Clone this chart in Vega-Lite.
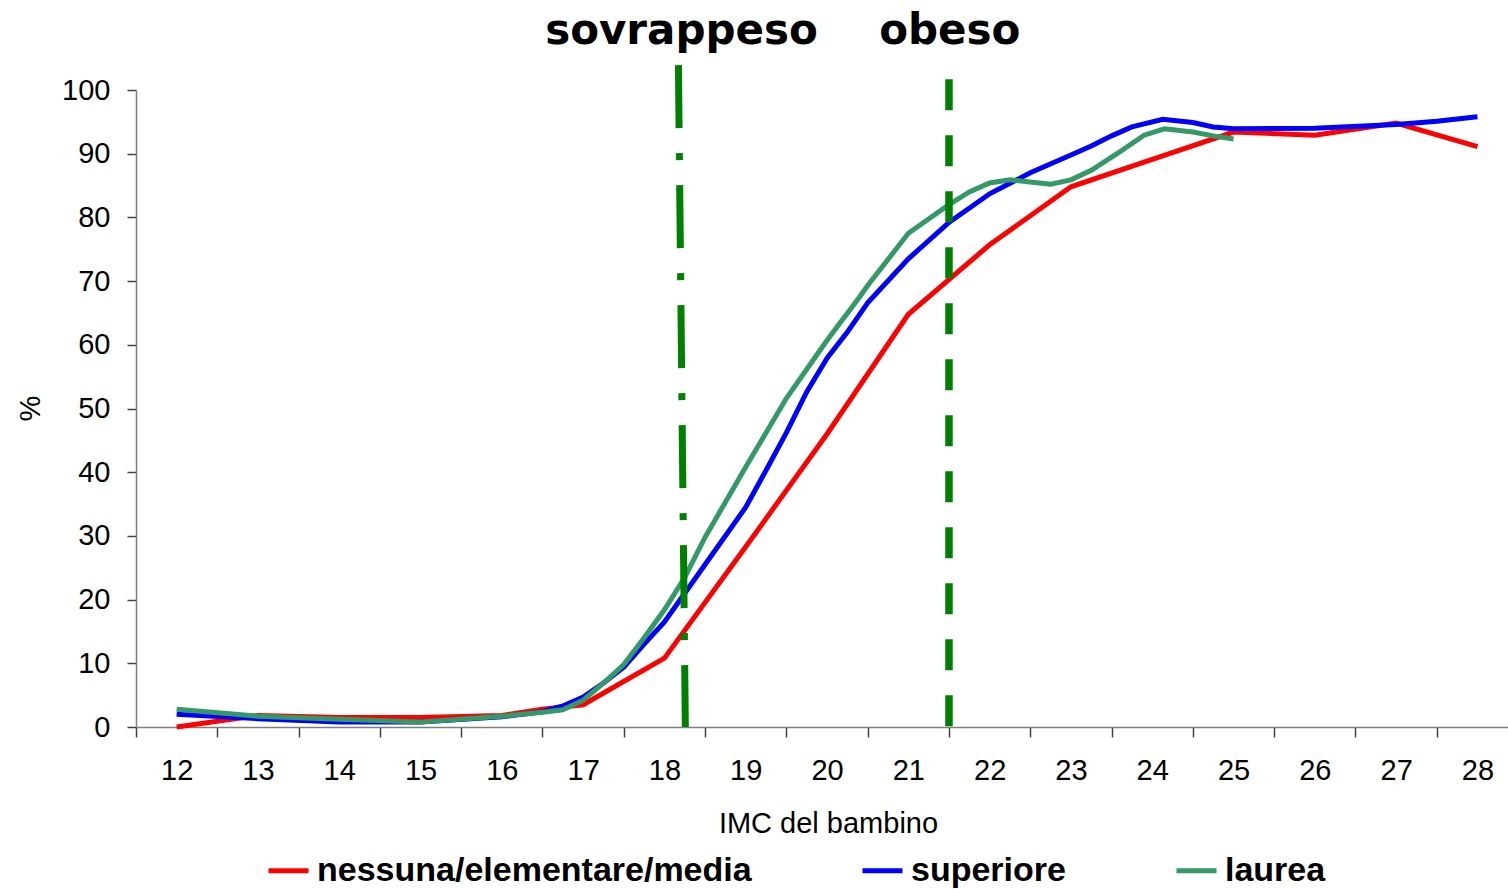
{
  "$schema": "https://vega.github.io/schema/vega-lite/v6.json",
  "width": 1372,
  "height": 637,
  "autosize": {"type": "none"},
  "padding": {"left": 136, "top": 90, "right": 0, "bottom": 162},
  "background": "white",
  "config": {"view": {"stroke": null}, "font": "Liberation Sans"},
  "datasets": {
    "series": [
      {"s": "nessuna/elementare/media", "x": 12, "y": 0.0},
      {"s": "nessuna/elementare/media", "x": 13, "y": 1.8},
      {"s": "nessuna/elementare/media", "x": 14, "y": 1.5},
      {"s": "nessuna/elementare/media", "x": 15, "y": 1.5},
      {"s": "nessuna/elementare/media", "x": 16, "y": 1.8},
      {"s": "nessuna/elementare/media", "x": 16.5, "y": 2.8},
      {"s": "nessuna/elementare/media", "x": 17, "y": 3.5},
      {"s": "nessuna/elementare/media", "x": 18, "y": 10.8},
      {"s": "nessuna/elementare/media", "x": 19, "y": 28.3},
      {"s": "nessuna/elementare/media", "x": 20, "y": 46.0},
      {"s": "nessuna/elementare/media", "x": 21, "y": 64.8},
      {"s": "nessuna/elementare/media", "x": 22, "y": 75.7},
      {"s": "nessuna/elementare/media", "x": 23, "y": 84.8},
      {"s": "nessuna/elementare/media", "x": 24, "y": 89.1},
      {"s": "nessuna/elementare/media", "x": 25, "y": 93.4},
      {"s": "nessuna/elementare/media", "x": 26, "y": 92.9},
      {"s": "nessuna/elementare/media", "x": 27, "y": 94.8},
      {"s": "nessuna/elementare/media", "x": 28, "y": 91.1},
      {"s": "superiore", "x": 12, "y": 2.0},
      {"s": "superiore", "x": 13, "y": 1.3},
      {"s": "superiore", "x": 14, "y": 0.8},
      {"s": "superiore", "x": 15, "y": 0.8},
      {"s": "superiore", "x": 16, "y": 1.6},
      {"s": "superiore", "x": 16.5, "y": 2.4},
      {"s": "superiore", "x": 16.75, "y": 3.3},
      {"s": "superiore", "x": 17, "y": 4.7},
      {"s": "superiore", "x": 17.25, "y": 6.9},
      {"s": "superiore", "x": 17.5, "y": 9.4},
      {"s": "superiore", "x": 17.75, "y": 13.0},
      {"s": "superiore", "x": 18, "y": 16.5},
      {"s": "superiore", "x": 18.25, "y": 21.0},
      {"s": "superiore", "x": 18.5, "y": 25.5},
      {"s": "superiore", "x": 19, "y": 34.5},
      {"s": "superiore", "x": 19.25, "y": 40.3},
      {"s": "superiore", "x": 19.5, "y": 46.2},
      {"s": "superiore", "x": 19.75, "y": 52.6},
      {"s": "superiore", "x": 20, "y": 57.9},
      {"s": "superiore", "x": 20.25, "y": 62.0},
      {"s": "superiore", "x": 20.5, "y": 66.6},
      {"s": "superiore", "x": 21, "y": 73.5},
      {"s": "superiore", "x": 21.5, "y": 79.2},
      {"s": "superiore", "x": 22, "y": 83.7},
      {"s": "superiore", "x": 22.5, "y": 87.0},
      {"s": "superiore", "x": 23, "y": 89.8},
      {"s": "superiore", "x": 23.25, "y": 91.2},
      {"s": "superiore", "x": 23.5, "y": 92.8},
      {"s": "superiore", "x": 23.75, "y": 94.2},
      {"s": "superiore", "x": 24.13, "y": 95.4},
      {"s": "superiore", "x": 24.5, "y": 94.9},
      {"s": "superiore", "x": 24.75, "y": 94.2},
      {"s": "superiore", "x": 25, "y": 93.9},
      {"s": "superiore", "x": 26, "y": 94.0},
      {"s": "superiore", "x": 27, "y": 94.6},
      {"s": "superiore", "x": 27.5, "y": 95.1},
      {"s": "superiore", "x": 28, "y": 95.8},
      {"s": "laurea", "x": 12, "y": 2.8},
      {"s": "laurea", "x": 13, "y": 1.7},
      {"s": "laurea", "x": 14, "y": 1.2},
      {"s": "laurea", "x": 15, "y": 0.8},
      {"s": "laurea", "x": 16, "y": 1.7},
      {"s": "laurea", "x": 16.5, "y": 2.3},
      {"s": "laurea", "x": 16.75, "y": 2.7},
      {"s": "laurea", "x": 17, "y": 4.2},
      {"s": "laurea", "x": 17.25, "y": 6.9},
      {"s": "laurea", "x": 17.5, "y": 9.8},
      {"s": "laurea", "x": 17.75, "y": 14.0},
      {"s": "laurea", "x": 18, "y": 18.4},
      {"s": "laurea", "x": 18.25, "y": 23.5},
      {"s": "laurea", "x": 18.5, "y": 29.8},
      {"s": "laurea", "x": 19, "y": 40.8},
      {"s": "laurea", "x": 19.5, "y": 51.6},
      {"s": "laurea", "x": 20, "y": 60.7},
      {"s": "laurea", "x": 20.4, "y": 67.5},
      {"s": "laurea", "x": 20.5, "y": 69.3},
      {"s": "laurea", "x": 21, "y": 77.5},
      {"s": "laurea", "x": 21.5, "y": 82.0},
      {"s": "laurea", "x": 21.75, "y": 84.0},
      {"s": "laurea", "x": 22, "y": 85.4},
      {"s": "laurea", "x": 22.25, "y": 85.9},
      {"s": "laurea", "x": 22.75, "y": 85.2},
      {"s": "laurea", "x": 23, "y": 85.9},
      {"s": "laurea", "x": 23.25, "y": 87.4},
      {"s": "laurea", "x": 23.6, "y": 90.3},
      {"s": "laurea", "x": 23.9, "y": 92.9},
      {"s": "laurea", "x": 24.15, "y": 93.9},
      {"s": "laurea", "x": 24.5, "y": 93.4},
      {"s": "laurea", "x": 24.75, "y": 92.8},
      {"s": "laurea", "x": 25, "y": 92.3}
    ],
    "sovrappeso": [
      {"x": 18.172, "y": 103.9, "o": 0},
      {"x": 18.257, "y": 0, "o": 1}
    ],
    "obeso": [
      {"x": 21.5, "y": 101.7, "o": 0},
      {"x": 21.5, "y": 0, "o": 1}
    ],
    "labels": [
      {"t": "sovrappeso", "x": 18.21, "y": 107.2},
      {"t": "obeso", "x": 21.51, "y": 107.2}
    ]
  },
  "layer": [
    {
      "data": {"name": "series"},
      "mark": {"type": "line", "strokeWidth": 5, "clip": false},
      "encoding": {
        "x": {
          "field": "x", "type": "quantitative",
          "scale": {"domain": [11.5, 28.376], "nice": false, "zero": false},
          "axis": {
            "title": "IMC del bambino",
            "values": [11.5, 12.5, 13.5, 14.5, 15.5, 16.5, 17.5, 18.5, 19.5, 20.5, 21.5, 22.5, 23.5, 24.5, 25.5, 26.5, 27.5],
            "labelExpr": "format(datum.value + 0.5, 'd')",
            "labelOffset": 40.65,
            "labelOverlap": false,
            "labelFlush": false,
            "labelBound": false,
            "labelFont": "Liberation Sans",
            "labelFontSize": 29,
            "labelColor": "black",
            "labelPadding": 19,
            "tickSize": 10,
            "tickColor": "#404040",
            "tickWidth": 1.5,
            "domainColor": "#7f7f7f",
            "domainWidth": 1.5,
            "grid": false,
            "titleFont": "Liberation Sans",
            "titleFontSize": 29,
            "titleFontWeight": "normal",
            "titleColor": "black",
            "titleBaseline": "alphabetic",
            "titleY": 105,
            "titleX": 692
          }
        },
        "y": {
          "field": "y", "type": "quantitative",
          "scale": {"domain": [0, 100], "nice": false},
          "axis": {
            "title": "%",
            "values": [0, 10, 20, 30, 40, 50, 60, 70, 80, 90, 100],
            "labelFont": "Liberation Sans",
            "labelFontSize": 29,
            "labelColor": "black",
            "labelPadding": 17,
            "tickSize": 9,
            "tickColor": "#404040",
            "tickWidth": 1.5,
            "domainColor": "#7f7f7f",
            "domainWidth": 1.5,
            "grid": false,
            "titleFont": "Liberation Sans",
            "titleFontSize": 29,
            "titleFontWeight": "normal",
            "titleColor": "black",
            "titleAngle": -90,
            "titleBaseline": "middle",
            "titleAlign": "center",
            "titleX": -106,
            "titleY": 318
          }
        },
        "color": {
          "field": "s", "type": "nominal",
          "scale": {
            "domain": ["nessuna/elementare/media", "superiore", "laurea"],
            "range": ["#FF0000", "#0000FF", "#339966"]
          },
          "legend": {
            "orient": "none",
            "legendX": 130,
            "legendY": 758,
            "direction": "horizontal",
            "title": null,
            "symbolType": "stroke",
            "symbolSize": 1600,
            "symbolStrokeWidth": 5,
            "labelFont": "Liberation Sans",
            "labelFontWeight": "bold",
            "labelFontSize": 34,
            "labelColor": "black",
            "labelLimit": 0,
            "labelOffset": 6,
            "columnPadding": 100,
            "padding": 0
          }
        }
      }
    },
    {
      "data": {"name": "sovrappeso"},
      "mark": {"type": "line", "color": "#008000", "strokeWidth": 7, "strokeDash": [63, 25, 7, 25], "clip": false},
      "encoding": {
        "x": {"field": "x", "type": "quantitative", "scale": {"domain": [11.5, 28.376], "nice": false, "zero": false}},
        "y": {"field": "y", "type": "quantitative", "scale": {"domain": [0, 100], "nice": false}},
        "order": {"field": "o", "type": "quantitative"}
      }
    },
    {
      "data": {"name": "obeso"},
      "mark": {"type": "line", "color": "#008000", "strokeWidth": 7.5, "strokeDash": [31, 25], "clip": false},
      "encoding": {
        "x": {"field": "x", "type": "quantitative", "scale": {"domain": [11.5, 28.376], "nice": false, "zero": false}},
        "y": {"field": "y", "type": "quantitative", "scale": {"domain": [0, 100], "nice": false}},
        "order": {"field": "o", "type": "quantitative"}
      }
    },
    {
      "data": {"name": "labels"},
      "mark": {"type": "text", "font": "DejaVu Sans", "fontWeight": "bold", "fontSize": 42, "align": "center", "baseline": "alphabetic", "color": "black", "clip": false},
      "encoding": {
        "x": {"field": "x", "type": "quantitative", "scale": {"domain": [11.5, 28.376], "nice": false, "zero": false}},
        "y": {"field": "y", "type": "quantitative", "scale": {"domain": [0, 100], "nice": false}},
        "text": {"field": "t"}
      }
    }
  ]
}
